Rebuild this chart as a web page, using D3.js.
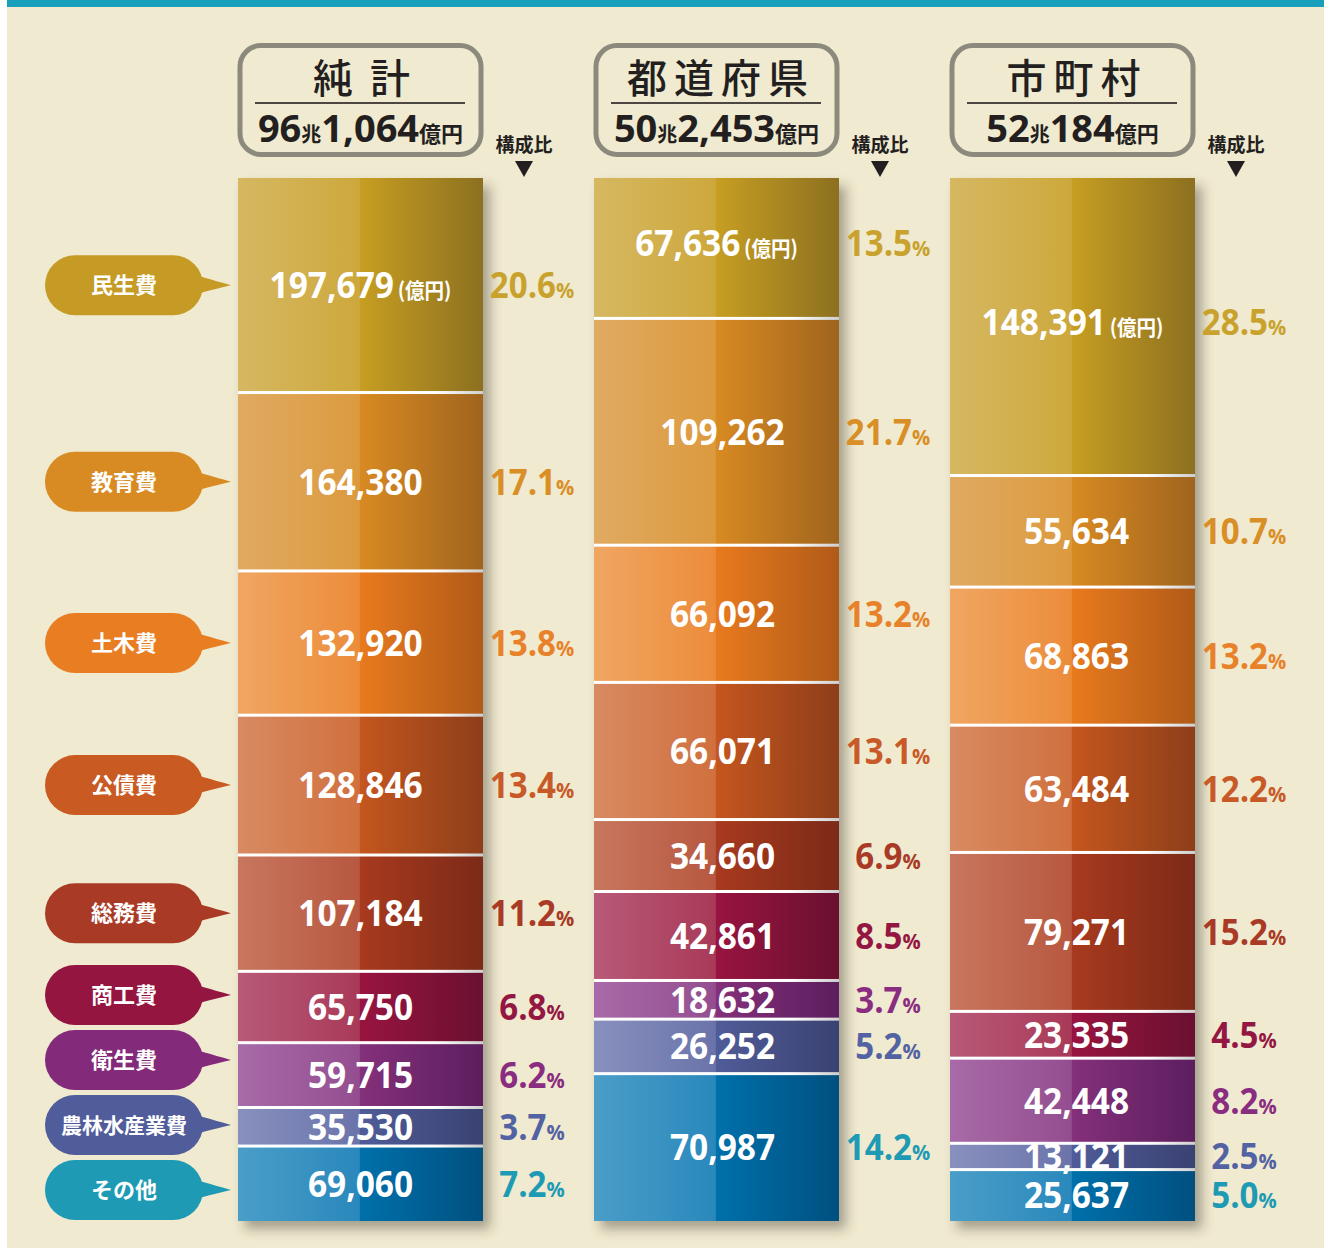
<!DOCTYPE html>
<html><head><meta charset="utf-8">
<script src="https://cdn.jsdelivr.net/npm/d3@7"></script>
<style>
html,body{margin:0;padding:0;background:#fff;}
svg{display:block;}
</style></head>
<body>
<svg id="chart" width="1324" height="1248"></svg>
<script>
// ---- data ----
const categories = ["民生費","教育費","土木費","公債費","総務費","商工費","衛生費","農林水産業費","その他"];
const columnKeys = ["純計","都道府県","市町村"];
const columnTitles = ["純 計","都道府県","市町村"];
const totalCho = ["96","50","52"];
const totalOku = ["1,064","2,453","184"];
const netValues  = [197679,164380,132920,128846,107184,65750,59715,35530,69060];
const prefValues = [67636,109262,66092,66071,34660,42861,18632,26252,70987];
const muniValues = [148391,55634,68863,63484,79271,23335,42448,13121,25637];
const netShares  = [20.6,17.1,13.8,13.4,11.2,6.8,6.2,3.7,7.2];
const prefShares = [13.5,21.7,13.2,13.1,6.9,8.5,3.7,5.2,14.2];
const muniShares = [28.5,10.7,13.2,12.2,15.2,4.5,8.2,2.5,5.0];
const shareLabel = "構成比";
const unitLabel = "(億円)";

// ---- palette ----
const baseColors  = ["#c59b25","#d88b22","#e97d22","#c85a22","#a83a26","#931540","#842a7a","#515d9a","#1e9ab4"];
const pctColors   = ["#c9a22e","#d98e26","#e8822a","#c85a28","#a83a26","#941642","#8a2c80","#5262a2","#1e9ab4"];
const gradLeft    = ["#d6b862","#e0aa62","#f0a662","#d88a62","#c8765e","#b85a78","#a86aa8","#8890be","#4a9ec8"];
const gradMidL    = ["#cda83c","#dc9a3e","#ec8c3a","#d0703e","#b85840","#a83a58","#944e90","#6a74aa","#2a88bc"];
const gradMid     = ["#c79e22","#d88a22","#e87a1e","#c4561e","#a83a1e","#981440","#84307a","#505c98","#0070aa"];
const gradRight   = ["#8c7020","#a0641e","#b05a18","#8e3e1a","#7c2a18","#6a1030","#5c1e5e","#3a4272","#005080"];

const valuesByCol = [netValues, prefValues, muniValues];
const sharesByCol = [netShares, prefShares, muniShares];

const W = 1324, H = 1248;
const svg = d3.select("#chart");
const numFont = "'Open Sans', 'Noto Sans', sans-serif";
const jpFont = "'Noto Sans CJK JP', 'Noto Sans', sans-serif";
const labelShift = [0, 6, 4];   // small horizontal nudge of value labels per column

const defs = svg.append("defs");
categories.forEach((c,i)=>{
  const g = defs.append("linearGradient").attr("id","g"+i).attr("x1","0").attr("x2","1").attr("y1","0").attr("y2","0");
  g.append("stop").attr("offset","0").attr("stop-color",gradLeft[i]);
  g.append("stop").attr("offset","0.495").attr("stop-color",gradMidL[i]);
  g.append("stop").attr("offset","0.5").attr("stop-color",gradMid[i]);
  g.append("stop").attr("offset","1").attr("stop-color",gradRight[i]);
});
const sepGrad = defs.append("linearGradient").attr("id","sep").attr("x1","0").attr("x2","1");
sepGrad.append("stop").attr("offset","0").attr("stop-color","#ffffff");
sepGrad.append("stop").attr("offset","0.8").attr("stop-color","#ffffff");
sepGrad.append("stop").attr("offset","1").attr("stop-color","#cfcfcf");
const f = defs.append("filter").attr("id","shadow").attr("x","-20%").attr("y","-10%").attr("width","150%").attr("height","130%");
f.append("feDropShadow").attr("dx",7).attr("dy",8).attr("stdDeviation",6).attr("flood-color","#3a3020").attr("flood-opacity",0.4);

// background
svg.append("rect").attr("width",W).attr("height",H).attr("fill","#ffffff");
svg.append("rect").attr("x",7).attr("y",0).attr("width",W-7).attr("height",H).attr("fill","#f0ead0");
svg.append("rect").attr("x",7).attr("y",0).attr("width",W-7).attr("height",7).attr("fill","#179fbc");

// scales
const x = d3.scaleBand().domain(columnKeys).range([238,1195]).paddingInner(111/356).paddingOuter(0);
const bw = x.bandwidth();
const yTop = 178, yBot = 1221;

columnKeys.forEach((key,ci)=>{
  const vals = valuesByCol[ci];
  const shares = sharesByCol[ci];
  const total = d3.sum(vals);
  const y = d3.scaleLinear().domain([0,total]).range([yTop,yBot]);
  const x0 = x(key);
  const cx = x0 + bw/2;
  const lx = cx + labelShift[ci];
  const cum = d3.cumsum(vals);
  const starts = [0, ...cum.slice(0,-1)];

  // header box
  const hg = svg.append("g");
  hg.append("rect").attr("x",x0+2).attr("y",45.5).attr("width",bw-4).attr("height",109)
    .attr("rx",21).attr("fill","#f0ead0").attr("stroke","#8c8a7c").attr("stroke-width",5);
  hg.append("line").attr("x1",x0+17).attr("x2",x0+227).attr("y1",103).attr("y2",103)
    .attr("stroke","#4d4743").attr("stroke-width",2);
  const title = columnTitles[ci];
  const ls = title.includes(" ") ? 4 : 7;
  hg.append("text").attr("x",cx+ls/2+1).attr("y",93).attr("text-anchor","middle")
    .attr("font-family",jpFont).attr("font-weight",500).attr("font-size",40)
    .attr("letter-spacing",ls).attr("fill","#231f20").text(title);
  const tt = hg.append("text").attr("x",cx).attr("y",142).attr("text-anchor","middle")
    .attr("fill","#231f20").attr("font-weight",700);
  tt.append("tspan").attr("font-family",numFont).attr("font-size",38).text(totalCho[ci]);
  tt.append("tspan").attr("font-family",jpFont).attr("font-size",20).text("兆");
  tt.append("tspan").attr("font-family",numFont).attr("font-size",38).text(totalOku[ci]);
  tt.append("tspan").attr("font-family",jpFont).attr("font-size",22).text("億円");

  // 構成比
  svg.append("text").attr("x",x0+bw+41).attr("y",152).attr("text-anchor","middle")
    .attr("font-family",jpFont).attr("font-weight",700).attr("font-size",19).attr("fill","#231f20").text(shareLabel);
  const tx = x0+bw+41;
  svg.append("path").attr("d",`M${tx-9},161 L${tx+9},161 L${tx},177 Z`).attr("fill","#231f20");

  // column
  const colG = svg.append("g");
  colG.append("rect").attr("x",x0).attr("y",yTop).attr("width",bw).attr("height",yBot-yTop)
    .attr("fill","#ffffff").attr("filter","url(#shadow)");
  colG.selectAll("rect.seg").data(vals).join("rect").attr("class","seg")
    .attr("x",x0).attr("width",bw)
    .attr("y",(d,i)=>y(starts[i]))
    .attr("height",(d,i)=>y(cum[i])-y(starts[i]))
    .attr("fill",(d,i)=>`url(#g${i})`);
  colG.selectAll("rect.sep").data(vals.slice(0,-1)).join("rect").attr("class","sep")
    .attr("x",x0).attr("width",bw).attr("y",(d,i)=>y(cum[i])-1.5).attr("height",3)
    .attr("fill","url(#sep)");

  // value labels
  vals.forEach((v,i)=>{
    let cy = (y(starts[i])+y(cum[i]))/2;
    if(i===0 && ci>0) cy -= 5;
    const t = colG.append("text").attr("transform",`translate(${i===0?cx:lx},${cy+13}) scale(0.93,1)`)
      .attr("text-anchor","middle").attr("fill","#ffffff").attr("font-weight",700);
    t.append("tspan").attr("font-family",numFont).attr("font-size",36).text(d3.format(",")(v));
    if(i===0){
      t.append("tspan").attr("font-family",jpFont).attr("font-size",21).attr("dx",4).text(unitLabel);
    }
    const p = svg.append("text").attr("transform",`translate(${x0+bw+49},${cy+13}) scale(0.92,1)`)
      .attr("text-anchor","middle").attr("fill",pctColors[i]).attr("font-weight",700).attr("font-family",numFont);
    p.append("tspan").attr("font-size",36).text(d3.format(".1f")(shares[i]));
    p.append("tspan").attr("font-size",22).text("%");
  });

  // bubbles for first column
  if(ci===0){
    let pos = vals.map((v,i)=>(y(starts[i])+y(cum[i]))/2);
    const minGap = 65;
    for(let it=0; it<200; it++){
      for(let i=0;i<pos.length-1;i++){
        const gap = pos[i+1]-pos[i];
        if(gap<minGap){
          const d = (minGap-gap)/2;
          pos[i]-=d; pos[i+1]+=d;
        }
      }
      const maxB = yBot-31;
      if(pos[pos.length-1]>maxB){ pos[pos.length-1]=maxB; }
    }
    const bg = svg.append("g");
    categories.forEach((c,i)=>{
      const by = pos[i];
      bg.append("rect").attr("x",45).attr("y",by-30).attr("width",158).attr("height",60).attr("rx",30)
        .attr("fill",baseColors[i]);
      bg.append("path").attr("d",`M188,${by-12} Q200,${by-9} 231,${by} Q200,${by+7} 188,${by+12} Z`)
        .attr("fill",baseColors[i]);
      bg.append("text").attr("x",124).attr("y",by+8).attr("text-anchor","middle")
        .attr("font-family",jpFont).attr("font-weight",700).attr("font-size",c.length>4?21:22)
        .attr("fill","#ffffff").text(c);
    });
  }
});
</script>
</body></html>
